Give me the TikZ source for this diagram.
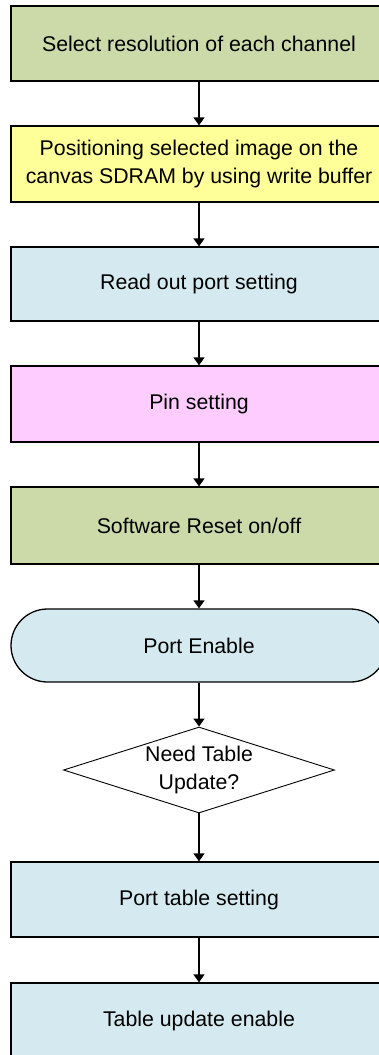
\documentclass[tikz,border=0pt]{standalone}
\usepackage{fontspec}
\setmainfont{Liberation Sans}
\usepackage{tikz}
\usetikzlibrary{arrows.meta,shapes.geometric}
\definecolor{stepgreen}{RGB}{204,218,170}
\definecolor{stepyellow}{RGB}{255,255,153}
\definecolor{stepblue}{RGB}{213,234,240}
\definecolor{steppink}{RGB}{255,204,255}

\begin{document}
\begin{tikzpicture}[x=1pt,y=-1pt,
    font=\fontsize{21.3}{28}\selectfont,
    >={Triangle[width=11pt,length=8pt]},
    procbox/.style={draw,line width=1.3pt,minimum width=376pt,minimum height=75pt,align=center,inner sep=0pt},
    flow/.style={->,line width=1.4pt}]
  \clip (0,0) rectangle (379,1055);

  \node[procbox,fill=stepgreen] (sel) at (199,43.5) {Select resolution of each channel};
  \node[procbox,fill=stepyellow,minimum height=76pt] (pos) at (199,164) {Positioning selected image on the\\canvas SDRAM by using write buffer};
  \node[procbox,fill=stepblue,minimum height=74pt] (rd) at (199,284) {Read out port setting};
  \node[procbox,fill=steppink,minimum height=76pt] (pin) at (199,404) {Pin setting};
  \node[procbox,fill=stepgreen,minimum height=77pt] (rst) at (199,525.5) {Software Reset on/off};
  \node[procbox,fill=stepblue,minimum height=73pt,rounded corners=36.5pt] (en) at (199,645.5) {Port Enable};
  \node[draw,diamond,shape aspect=3,line width=0.9pt,minimum width=271pt,minimum height=86pt,align=center,inner sep=0pt] (need) at (199,770) {Need Table\\Update?};
  \node[procbox,fill=stepblue] (tbl) at (199,899.5) {Port table setting};
  \node[procbox,fill=stepblue] (upd) at (199,1020.5) {Table update enable};

  % Flow
  \draw[flow] (sel) -- (pos);
  \draw[flow] (pos) -- (rd);
  \draw[flow] (rd) -- (pin);
  \draw[flow] (pin) -- (rst);
  \draw[flow] (rst) -- (en);
  \draw[flow] (en) -- (need);
  \draw[flow] (need) -- (tbl);
  \draw[flow] (tbl) -- (upd);
\end{tikzpicture}
\end{document}
